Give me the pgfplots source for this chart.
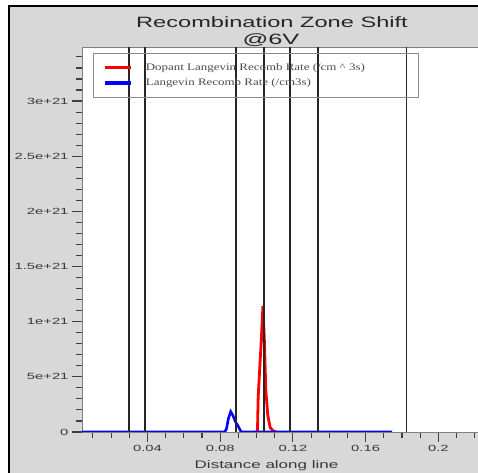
\documentclass[border=0pt]{standalone}
\usepackage{fontspec}
\setmainfont{Liberation Sans}
\newfontfamily\legfont{Liberation Serif}
\usepackage{graphicx}
\usepackage{pgfplots}
\pgfplotsset{compat=1.18}
\definecolor{framegray}{RGB}{216,216,216}
\definecolor{ticktext}{RGB}{55,55,55}
\newcommand{\wide}[2]{\scalebox{#1}[1]{#2}}

\begin{document}
\begin{tikzpicture}
% grey frame behind everything
\fill[framegray] (-73bp,-41bp) rectangle (396bp,426bp);
\draw[black, line width=2bp] (-73bp,-41bp) -- (-73bp,426bp) -- (396bp,426bp);
\begin{axis}[
    at={(0,0)}, anchor=south west,
    scale only axis,
    width=410bp, height=385bp,
    xmin=0.004, xmax=0.2295,
    ymin=0, ymax=3.49e21,
    scaled y ticks=false, scaled x ticks=false,
    axis background/.style={fill=white},
    axis line style={black!50, line width=0.6bp},
    tick align=outside,
    xtick pos=left, ytick pos=left,
    major tick length=10bp, minor tick length=6bp,
    every tick/.style={black!75, line width=1.1bp},
    xtick={0.04,0.08,0.12,0.16,0.2},
    xticklabels={\wide{1.65}{0.04},\wide{1.65}{0.08},\wide{1.65}{0.12},\wide{1.65}{0.16},\wide{1.65}{0.2}},
    minor xtick={0.01,0.02,0.03,0.05,0.06,0.07,0.09,0.10,0.11,0.13,0.14,0.15,0.17,0.18,0.19,0.21,0.22},
    ytick={0,5e20,1e21,1.5e21,2e21,2.5e21,3e21},
    yticklabels={\wide{1.65}{0},\wide{1.65}{5e+21},\wide{1.65}{1e+21},\wide{1.65}{1.5e+21},\wide{1.65}{2e+21},\wide{1.65}{2.5e+21},\wide{1.65}{3e+21}},
    minor ytick={1e20,2e20,3e20,4e20,6e20,7e20,8e20,9e20,1.1e21,1.2e21,1.3e21,1.4e21,1.6e21,1.7e21,1.8e21,1.9e21,2.1e21,2.2e21,2.3e21,2.4e21,2.6e21,2.7e21,2.8e21,2.9e21,3.1e21,3.2e21,3.3e21,3.4e21},
    ticklabel style={font=\fontsize{9}{10}\selectfont, text=ticktext},
    xlabel={\wide{1.55}{Distance along line}},
    xlabel style={at={(axis description cs:0.45,0)}, anchor=base, yshift=-36bp,
        font=\fontsize{11}{12}\selectfont, text=ticktext},
    legend cell align=left,
    legend image code/.code={\draw[#1, line width=3.5bp] (0bp,0bp) -- (26bp,0bp);},
    legend style={at={(axis description cs:0.0268,0.9844)}, anchor=north west,
        draw=black!45, line width=0.8bp, fill=none,
        font=\legfont\fontsize{10}{11}\selectfont, text=black!70,
        inner xsep=10bp, inner ysep=8bp, row sep=3bp},
]
\addplot[red, line width=2.8bp, mark=none] coordinates {
    (0.0990,0) (0.1005,0) (0.1009,3.2e20) (0.1018,5.9e20) (0.1027,8.6e20)
    (0.1035,1.14e21) (0.1043,8.3e20) (0.1051,3.8e20) (0.1062,1.5e20)
    (0.1075,4e19) (0.1095,5e18) (0.1112,0)
};
\addlegendentry{\makebox[272bp][l]{\hspace*{11bp}\wide{1.3}{Dopant Langevin Recomb Rate (/cm \textasciicircum{} 3s)}}}
\addplot[blue, line width=2.6bp, mark=none] coordinates {
    (0.004,0) (0.0825,0) (0.0835,3e19) (0.0845,1.2e20) (0.0858,1.85e20)
    (0.0870,1.5e20) (0.0885,9e19) (0.0900,5e19) (0.0912,1e19) (0.0920,0)
    (0.1745,0)
};
\addlegendentry{\makebox[272bp][l]{\hspace*{11bp}\wide{1.3}{Langevin Recomb Rate (/cm3s)}}}
% vertical marker lines
\addplot[ycomb, black!85, line width=1.8bp, mark=none, forget plot] coordinates {
    (0.0300,3.49e21) (0.0386,3.49e21) (0.0885,3.49e21) (0.1040,3.49e21)
    (0.1183,3.49e21) (0.1339,3.49e21) (0.1825,3.49e21)
};
\end{axis}
\node[anchor=base, font=\fontsize{15}{17}\selectfont, text=black!85] at (190bp,404bp) {\wide{1.58}{Recombination Zone Shift}};
\node[anchor=base, font=\fontsize{15}{17}\selectfont, text=black!85] at (189bp,387bp) {\wide{1.7}{@6V}};
\pgfresetboundingbox
\path[use as bounding box] (-82bp,-41bp) rectangle (396bp,432bp);
\end{tikzpicture}
\end{document}
